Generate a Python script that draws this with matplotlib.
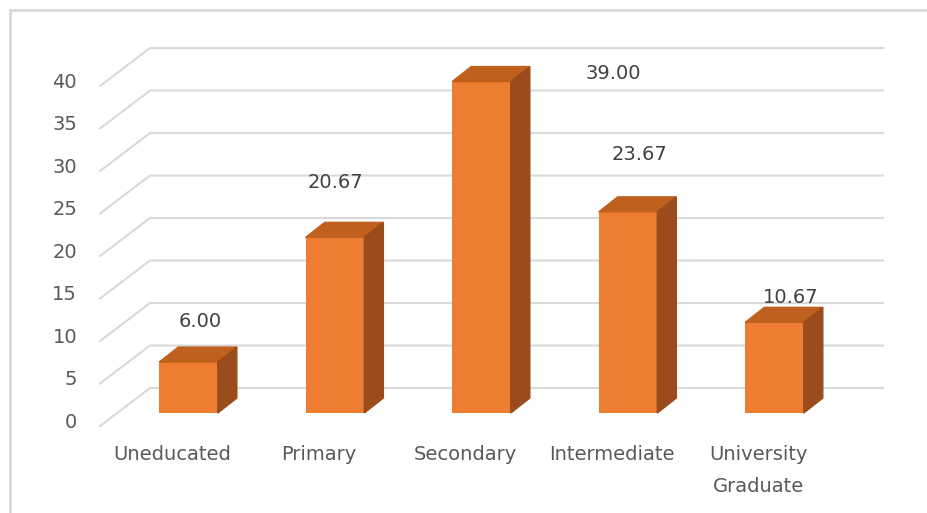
import matplotlib.pyplot as plt
from matplotlib.patches import Polygon
from matplotlib.lines import Line2D

categories = ['Uneducated', 'Primary', 'Secondary', 'Intermediate', 'University\nGraduate']
values = [6.00, 20.67, 39.00, 23.67, 10.67]
yticks = [0, 5, 10, 15, 20, 25, 30, 35, 40]

# where the value labels sit relative to each bar (x in categories, y in value units)
label_dx = [0.08, 0.0, 0.9, 0.08, 0.11]
label_dy = [4.8, 6.4, 1.0, 6.7, 2.9]

front = '#ED7D31'
top_c = '#C0601F'
side_c = '#9A4C1C'
grid_c = '#D9D9D9'
text_c = '#595959'

# fake 3d offsets
bw = 0.40
ddx, ddy = 0.13, 1.76
wall_x0, wall_y0 = -0.604, -1.53
wall_x1, wall_y1 = -0.263, 2.94
wall_end = 4.74

fig = plt.figure(figsize=(9.28, 5.13), dpi=100)
ax = fig.add_axes([0, 0, 1, 1])
ax.set_xlim(-1.2867, 5.048)
ax.set_ylim(-11.76, 48.59)
ax.axis('off')

# back wall gridlines
for t in yticks:
    ax.plot([wall_x0, wall_x1, wall_end], [t + wall_y0, t + wall_y1, t + wall_y1],
            color=grid_c, lw=1.5, zorder=1, solid_joinstyle='miter')
    ax.text(-0.76, t - 1.1, str(t), ha='right', va='center', fontsize=14, color=text_c)

x = list(range(len(values)))
ax.bar(x, values, width=bw, color=front, zorder=3)
for i, v in zip(x, values):
    l, r = i - bw / 2, i + bw / 2
    ax.add_patch(Polygon([(l, v), (r, v), (r + ddx, v + ddy), (l + ddx, v + ddy)],
                         closed=True, color=top_c, zorder=3))
    ax.add_patch(Polygon([(r, 0), (r + ddx, ddy), (r + ddx, v + ddy), (r, v)],
                         closed=True, color=side_c, zorder=3))
    ax.text(i + label_dx[i], v + label_dy[i], f'{v:.2f}', ha='center', va='center',
            fontsize=14, color='#404040', zorder=4)
    ax.text(i - 0.11, -3.75, categories[i], ha='center', va='top', fontsize=14,
            color=text_c, linespacing=1.85)

# chart border (top and left only visible)
fig.add_artist(Line2D([10 / 928, 10 / 928], [0, 1 - 10 / 513], transform=fig.transFigure,
                      color=grid_c, lw=2))
fig.add_artist(Line2D([10 / 928, 1], [1 - 10 / 513, 1 - 10 / 513], transform=fig.transFigure,
                      color=grid_c, lw=2))

plt.savefig('out.png', dpi=100)
